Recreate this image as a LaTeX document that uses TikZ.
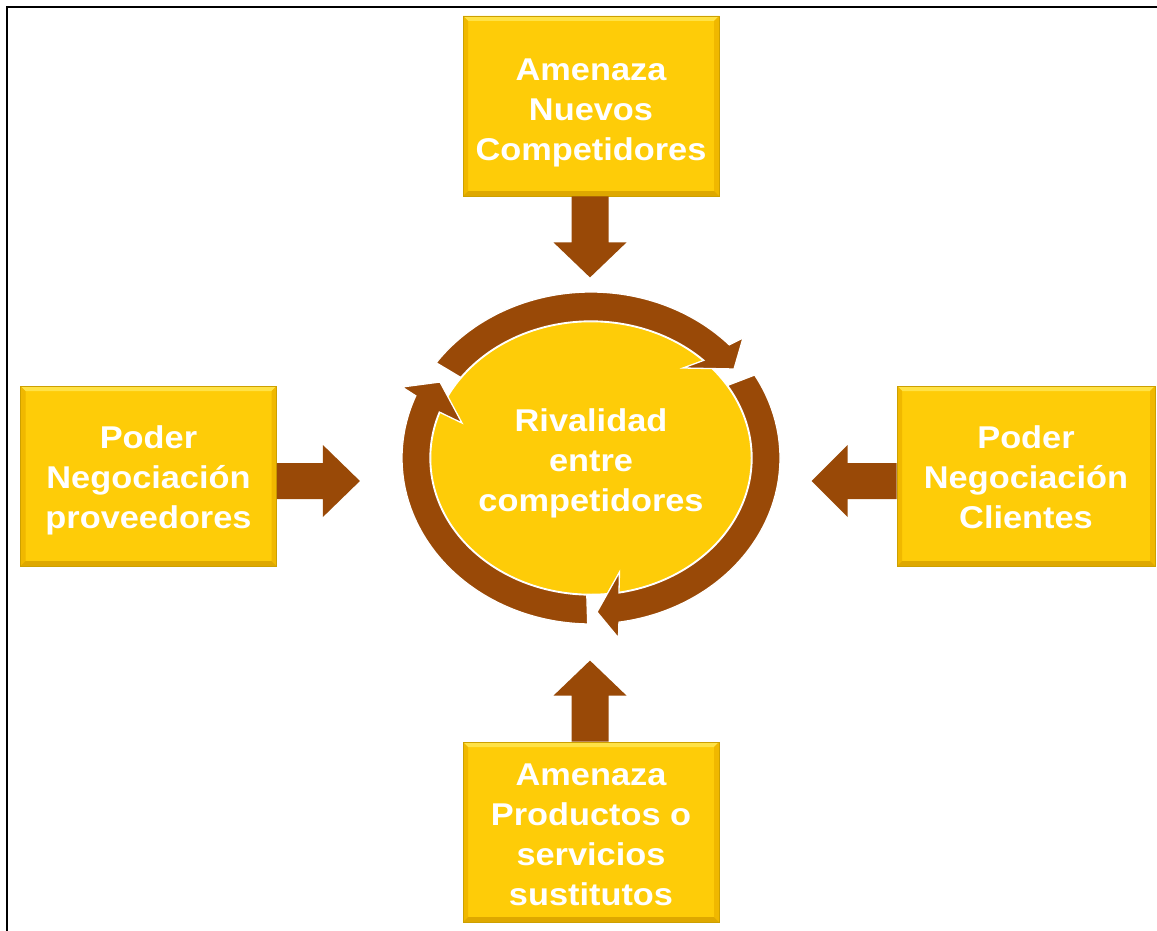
\documentclass[tikz,border=0pt]{standalone}
\usepackage{fontspec}
\newfontfamily\boxfont[FakeStretch=1.09]{Liberation Sans Bold}
\usetikzlibrary{shapes.geometric,calc}
\definecolor{gold}{RGB}{254,204,8}
\definecolor{goldedge}{RGB}{205,160,0}
\definecolor{goldlight}{RGB}{255,226,70}
\definecolor{goldside}{RGB}{240,184,0}
\definecolor{goldbottom}{RGB}{222,168,0}
\definecolor{arrowbrown}{RGB}{153,73,7}
\begin{document}
\begin{tikzpicture}[x=1pt,y=-1pt,
  boxtext/.style={text=white, font=\boxfont\fontsize{31.5}{40}\selectfont, align=center, inner sep=0pt},
  forcebox/.style={rectangle, minimum width=256pt, minimum height=180pt, inner sep=0pt,
    fill=gold, draw=goldedge, line width=0.8pt,
    path picture={
      \fill[goldlight] (path picture bounding box.north west) -- (path picture bounding box.north east)
        -- ([xshift=-5pt,yshift=-5pt]path picture bounding box.north east)
        -- ([xshift=5pt,yshift=-5pt]path picture bounding box.north west) -- cycle;
      \fill[goldside] (path picture bounding box.north west) -- ([xshift=5pt,yshift=-5pt]path picture bounding box.north west)
        -- ([xshift=5pt,yshift=5pt]path picture bounding box.south west) -- (path picture bounding box.south west) -- cycle;
      \fill[goldside] (path picture bounding box.north east) -- ([xshift=-5pt,yshift=-5pt]path picture bounding box.north east)
        -- ([xshift=-5pt,yshift=5pt]path picture bounding box.south east) -- (path picture bounding box.south east) -- cycle;
      \fill[goldbottom] (path picture bounding box.south west) -- (path picture bounding box.south east)
        -- ([xshift=-5pt,yshift=5pt]path picture bounding box.south east)
        -- ([xshift=5pt,yshift=5pt]path picture bounding box.south west) -- cycle;
    }},
  rivaldisk/.style={ellipse, minimum width=322pt, minimum height=274pt, inner sep=0pt,
    fill=gold, draw=white, line width=2.5pt},
  ringarrow/.style={fill=arrowbrown, draw=white, line width=1.3pt, line join=miter},
  blockarrow/.style={fill=arrowbrown}
]
\useasboundingbox (0,0) rectangle (1157,931);
\fill[white] (0,0) rectangle (1157,931);
\draw[line width=2pt] (6.5,931) -- (6.5,7.5) -- (1157,7.5);

% boxes
\node[forcebox] (top) at (591,106) {};
\node[forcebox] (left) at (148.5,476) {};
\node[forcebox, minimum width=258pt] (right) at (1026,476) {};
\node[forcebox] (bot) at (591,832) {};
\node[boxtext] (top-text) at ([yshift=-7pt]top.center) {Amenaza\\Nuevos\\Competidores};
\node[boxtext] (left-text) at ([yshift=-4pt]left.center) {Poder\\Negociación\\proveedores};
\node[boxtext] (right-text) at ([yshift=-1pt]right.center) {Poder\\Negociación\\Clientes};
\node[boxtext] (bot-text) at ([yshift=-3pt]bot.center) {Amenaza\\Productos o\\servicios\\sustitutos};

% central disk
\node[rivaldisk] (rival) at (591,458) {};
\node[boxtext] (rival-text) at ([yshift=-5pt]rival.center) {Rivalidad\\entre\\competidores};

% circular arrows
\filldraw[ringarrow] ([shift={(215:189 and 166)}]rival.center)
  arc[start angle=215, end angle=317, x radius=189, y radius=166]
  -- (743,338) -- (734,369) -- (683,368)
  -- ([shift={(314.5:161 and 137)}]rival.center)
  arc[start angle=314.5, end angle=216, x radius=161, y radius=137] -- cycle;
\filldraw[ringarrow] ([shift={(-30:189 and 166)}]rival.center)
  arc[start angle=-30, end angle=81.5, x radius=189, y radius=166]
  -- (618.5,638) -- (597,612) -- (619.5,572)
  -- ([shift={(80:161 and 137)}]rival.center)
  arc[start angle=80, end angle=-32, x radius=161, y radius=137] -- cycle;
\filldraw[ringarrow] ([shift={(91:189 and 166)}]rival.center)
  arc[start angle=91, end angle=202, x radius=189, y radius=166]
  -- (402,387) -- (440,382) -- (462,423)
  -- ([shift={(199.6:161 and 137)}]rival.center)
  arc[start angle=199.6, end angle=91.5, x radius=161, y radius=137] -- cycle;

% block arrows
\fill[blockarrow] ([xshift=-19.5pt]top.south) -- ++(0,46) -- ++(-18,0) -- ++(36.5,35)
  -- ++(36.5,-35) -- ++(-18,0) -- ++(0,-46) -- cycle;
\fill[blockarrow] ([xshift=-19.5pt]bot.north) -- ++(0,-46) -- ++(-18,0) -- ++(36.5,-35)
  -- ++(36.5,35) -- ++(-18,0) -- ++(0,46) -- cycle;
\fill[blockarrow] ([yshift=13pt]left.east) -- ++(46,0) -- ++(0,-18) -- ++(37,36)
  -- ++(-37,36) -- ++(0,-18) -- ++(-46,0) -- cycle;
\fill[blockarrow] ([yshift=13pt]right.west) -- ++(-49,0) -- ++(0,-18) -- ++(-36,36)
  -- ++(36,36) -- ++(0,-18) -- ++(49,0) -- cycle;
\end{tikzpicture}
\end{document}
